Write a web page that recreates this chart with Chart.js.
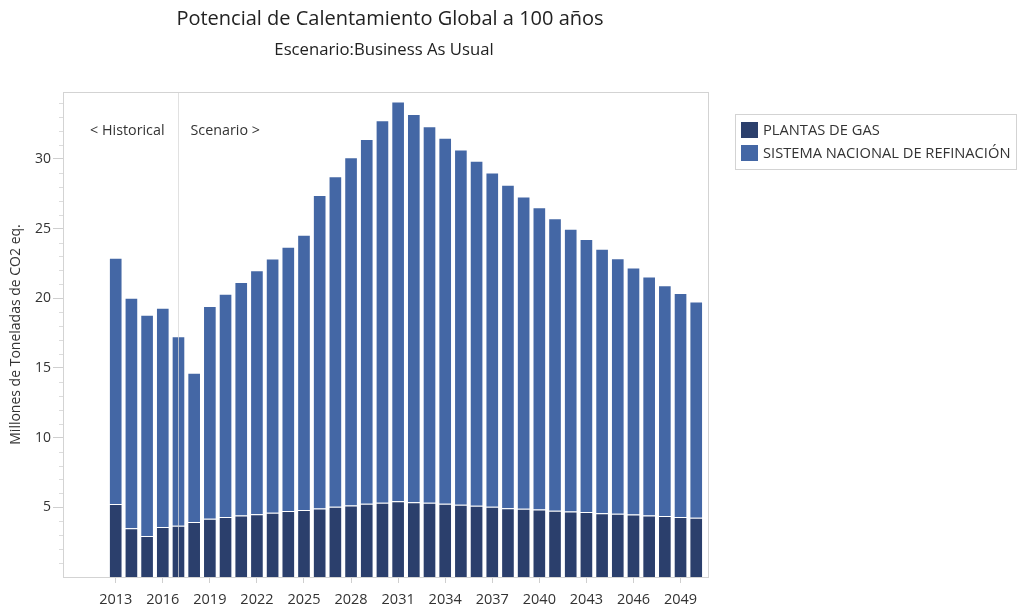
<!DOCTYPE html>
<html>
<head>
<meta charset="utf-8">
<script src="https://cdn.jsdelivr.net/npm/chart.js@4.4.1/dist/chart.umd.min.js"></script>
<style>
  html, body { margin: 0; padding: 0; background: #ffffff; }
  #wrap { width: 1018px; height: 609px; position: relative; }
</style>
</head>
<body>
<div id="wrap"><canvas id="chart" width="1018" height="609"></canvas></div>
<script>
// Years of the series
const years = [2013, 2014, 2015, 2016, 2017, 2018, 2019, 2020, 2021, 2022,
  2023, 2024, 2025, 2026, 2027, 2028, 2029, 2030, 2031, 2032,
  2033, 2034, 2035, 2036, 2037, 2038, 2039, 2040, 2041, 2042,
  2043, 2044, 2045, 2046, 2047, 2048, 2049, 2050];

// Millones de toneladas de CO2 eq. — Plantas de gas
const plantasGas = [5.23, 3.49, 2.94, 3.58, 3.68, 3.94, 4.18, 4.30, 4.42, 4.51,
  4.61, 4.73, 4.80, 4.92, 5.04, 5.13, 5.25, 5.32, 5.43, 5.37,
  5.32, 5.25, 5.18, 5.11, 5.04, 4.94, 4.89, 4.85, 4.75, 4.70,
  4.66, 4.58, 4.53, 4.49, 4.42, 4.37, 4.30, 4.25];

// Millones de toneladas de CO2 eq. — Sistema Nacional de Refinación
const refinacion = [17.67, 16.54, 15.88, 15.74, 13.60, 10.72, 15.26, 16.02, 16.74, 17.50,
  18.24, 18.96, 19.75, 22.49, 23.71, 24.98, 26.17, 27.46, 28.69, 27.85,
  27.03, 26.27, 25.50, 24.76, 23.99, 23.21, 22.42, 21.68, 20.99, 20.28,
  19.60, 18.97, 18.35, 17.72, 17.14, 16.57, 16.07, 15.52];

// Tick labels
const xTickYears = [2013, 2016, 2019, 2022, 2025, 2028, 2031, 2034, 2037, 2040, 2043, 2046, 2049];
const yTickValues = [5, 10, 15, 20, 25, 30];

const seriesNames = ['PLANTAS DE GAS', 'SISTEMA NACIONAL DE REFINACIÓN'];
const titleText = 'Potencial de Calentamiento Global a 100 años';
const subtitleText = 'Escenario:Business As Usual';
const yTitle = 'Millones de Toneladas de CO2 eq.';
const firstScenarioYear = 2017;

const FONT = '"Open Sans", "Noto Sans", "DejaVu Sans", sans-serif';
const COL_GAS = '#2b3f6c';
const COL_REF = '#4467a5';
const TEXT = '#333333';
const FRAME = '#d3d3d3';

// Plot frame, minor ticks, historical/scenario divider
const framePlugin = {
  id: 'frame',
  afterDatasetsDraw(chart) {
    const { ctx, chartArea: a, scales } = chart;
    ctx.save();
    // divider between historical and scenario years
    const xd = Math.round(scales.x.getPixelForValue(firstScenarioYear)) + 0.5;
    ctx.strokeStyle = 'rgba(215,215,215,0.75)';
    ctx.lineWidth = 1;
    ctx.beginPath();
    ctx.moveTo(xd, a.top);
    ctx.lineTo(xd, a.bottom);
    ctx.stroke();

    ctx.fillStyle = TEXT;
    ctx.font = '14.3px ' + FONT;
    ctx.textBaseline = 'middle';
    ctx.textAlign = 'right';
    ctx.fillText('< Historical', xd - 14, a.top + 39);
    ctx.textAlign = 'left';
    ctx.fillText('Scenario >', xd + 12, a.top + 39);

    // frame
    ctx.strokeStyle = FRAME;
    ctx.strokeRect(Math.round(a.left) + 0.5, Math.round(a.top) + 0.5,
      Math.round(a.right - a.left), Math.round(a.bottom - a.top));

    // minor ticks on the value axis
    const y = scales.y;
    ctx.strokeStyle = '#dcdcdc';
    ctx.beginPath();
    for (let v = 1; v <= y.max; v++) {
      if (v % 5 === 0) continue;
      const py = Math.round(y.getPixelForValue(v)) + 0.5;
      ctx.moveTo(a.left - 4, py);
      ctx.lineTo(a.left, py);
    }
    ctx.stroke();
    ctx.restore();
  },
  afterDraw(chart) {
    const { ctx } = chart;
    ctx.save();
    ctx.fillStyle = '#222222';
    ctx.textAlign = 'center';
    ctx.textBaseline = 'middle';
    ctx.font = '20px ' + FONT;
    ctx.fillText(titleText, 390, 19);
    ctx.font = '16.7px ' + FONT;
    ctx.fillText(subtitleText, 384, 50);

    // legend
    const lx = 735.5, ly = 114.5, lw = 281, lh = 55;
    ctx.strokeStyle = FRAME;
    ctx.lineWidth = 1;
    ctx.strokeRect(lx, ly, lw, lh);
    ctx.textAlign = 'left';
    ctx.font = '14.7px ' + FONT;
    chart.data.datasets.forEach((ds, i) => {
      const ry = 122 + i * 23;
      ctx.fillStyle = ds.backgroundColor;
      ctx.fillRect(741, ry, 17, 16);
      ctx.fillStyle = TEXT;
      ctx.fillText(ds.label, 763, ry + 9);
    });
    ctx.restore();
  }
};

new Chart(document.getElementById('chart'), {
  type: 'bar',
  data: {
    datasets: [
      {
        label: seriesNames[0],
        data: years.map((yr, i) => ({ x: yr, y: plantasGas[i] })),
        backgroundColor: COL_GAS,
        borderColor: 'rgba(255,255,255,0.45)',
        borderWidth: 1,
        barPercentage: 0.87,
        categoryPercentage: 1.0
      },
      {
        label: seriesNames[1],
        data: years.map((yr, i) => ({ x: yr, y: refinacion[i] })),
        backgroundColor: COL_REF,
        borderColor: 'rgba(255,255,255,0.45)',
        borderWidth: 1,
        barPercentage: 0.87,
        categoryPercentage: 1.0
      }
    ]
  },
  options: {
    responsive: false,
    animation: false,
    layout: { padding: { top: 92, right: 310, left: 0, bottom: 0 } },
    plugins: {
      legend: { display: false },
      tooltip: { enabled: false },
      title: { display: false }
    },
    scales: {
      x: {
        type: 'linear',
        stacked: true,
        min: 2009.64,
        max: 2050.75,
        offset: false,
        afterBuildTicks: s => { s.ticks = xTickYears.map(v => ({ value: v })); },
        afterFit: s => { s.height = 32; },
        grid: { offset: false, drawOnChartArea: false, drawTicks: true, tickLength: 6, color: '#cfcfcf' },
        border: { display: true, color: FRAME },
        ticks: {
          color: TEXT,
          font: { family: FONT, size: 14.5 },
          padding: 8,
          maxRotation: 0,
          autoSkip: false,
          callback: v => String(v)
        }
      },
      y: {
        stacked: true,
        min: 0,
        max: 34.8,
        afterBuildTicks: s => { s.ticks = yTickValues.map(v => ({ value: v })); },
        afterFit: s => { s.width = 63; },
        grid: { drawOnChartArea: false, drawTicks: true, tickLength: 10, color: '#cfcfcf' },
        border: { display: true, color: FRAME },
        ticks: {
          color: TEXT,
          font: { family: FONT, size: 14 },
          padding: 2
        },
        title: {
          display: true,
          text: yTitle,
          color: TEXT,
          font: { family: FONT, size: 14 },
          padding: { top: 8, bottom: 0 }
        }
      }
    }
  },
  plugins: [framePlugin]
});
</script>
</body>
</html>
